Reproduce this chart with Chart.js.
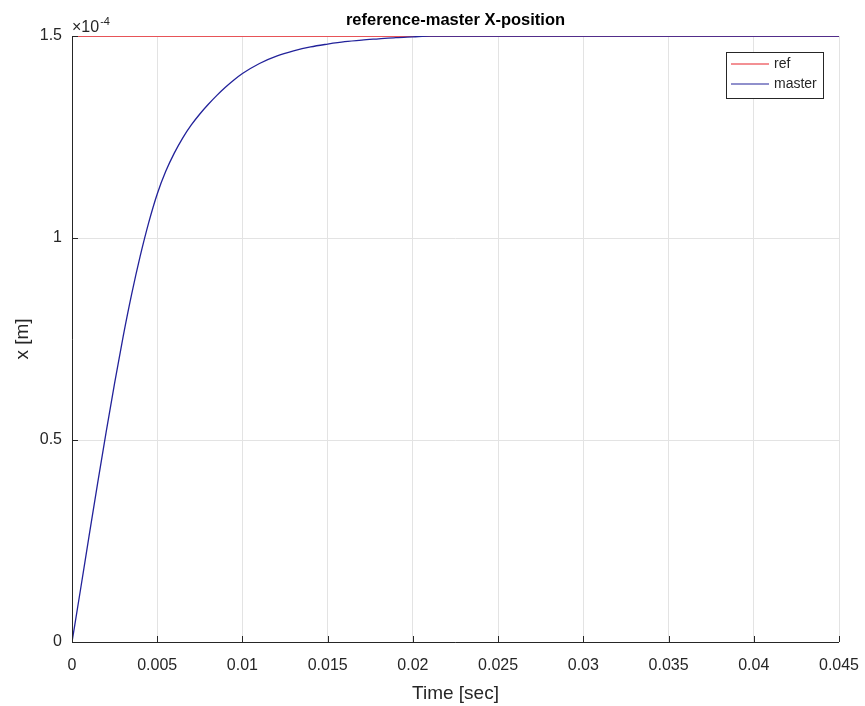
<!DOCTYPE html>
<html>
<head>
<meta charset="utf-8">
<script src="https://cdn.jsdelivr.net/npm/chart.js@4/dist/chart.umd.min.js"></script>
<style>
  html, body { margin: 0; padding: 0; background: #fff; }
  #wrap { width: 865px; height: 706px; position: relative; }
</style>
</head>
<body>
<div id="wrap"><canvas id="c" width="865" height="706"></canvas></div>
<script>
// values, x in seconds, y in units of 1e-4 m
const timeSec = [0, 0.0005, 0.001, 0.0015, 0.002, 0.0025, 0.003, 0.0035, 0.004, 0.0045,
  0.005, 0.0055, 0.006, 0.0065, 0.007, 0.0075, 0.008, 0.0085, 0.009, 0.0095, 0.010, 0.011,
  0.012, 0.013, 0.014, 0.015, 0.016, 0.017, 0.018, 0.019, 0.020, 0.021, 0.045];
const masterX = [0, 0.13, 0.262, 0.392, 0.519, 0.641, 0.756, 0.861, 0.955, 1.038,
  1.109, 1.165, 1.21, 1.248, 1.28, 1.307, 1.331, 1.353, 1.373, 1.391, 1.407, 1.432,
  1.45, 1.463, 1.473, 1.48, 1.486, 1.49, 1.493, 1.496, 1.498, 1.5, 1.5];
const refTime = [0, 0.045];
const refX = [1.5, 1.5];
const xTicks = [0, 0.005, 0.01, 0.015, 0.02, 0.025, 0.03, 0.035, 0.04, 0.045];
const yTicks = [0, 0.5, 1, 1.5];
const legendNames = ['ref', 'master'];

const RED = '#e8232a';
const BLUE = '#22229a';
const FONT = '"Liberation Sans", Arial, sans-serif';

const pts = (xs, ys) => xs.map((x, i) => ({x, y: ys[i]}));

// title, exponent, axis titles, inner ticks and legend box
const decor = {
  id: 'decor',
  afterDraw(chart) {
    const {ctx, chartArea: a, scales} = chart;
    const xs = scales.x, ys = scales.y;
    ctx.save();
    // inner ticks
    ctx.strokeStyle = '#262626';
    ctx.lineWidth = 1;
    ctx.beginPath();
    xTicks.forEach(v => {
      const px = Math.round(xs.getPixelForValue(v)) + 0.5;
      ctx.moveTo(px, a.bottom); ctx.lineTo(px, a.bottom - 6);
    });
    yTicks.forEach(v => {
      const py = Math.round(ys.getPixelForValue(v)) + 0.5;
      ctx.moveTo(a.left, py); ctx.lineTo(a.left + 6, py);
    });
    ctx.stroke();
    // axes lines (left, bottom)
    ctx.beginPath();
    ctx.moveTo(a.left + 0.5, a.top); ctx.lineTo(a.left + 0.5, a.bottom + 0.5);
    ctx.lineTo(a.right, a.bottom + 0.5);
    ctx.stroke();

    ctx.fillStyle = '#000';
    ctx.font = 'bold 16.5px ' + FONT;
    ctx.textAlign = 'center';
    ctx.textBaseline = 'alphabetic';
    ctx.fillText('reference-master X-position', (a.left + a.right) / 2, 25);

    // exponent
    ctx.fillStyle = '#262626';
    ctx.textAlign = 'left';
    ctx.font = '16px ' + FONT;
    ctx.fillText('\u00d710', a.left, 32);
    const w = ctx.measureText('\u00d710').width;
    ctx.font = '11px ' + FONT;
    ctx.fillText('-4', a.left + w + 1, 25);

    // axis titles
    ctx.font = '19px ' + FONT;
    ctx.textAlign = 'center';
    ctx.fillText('Time [sec]', (a.left + a.right) / 2, 699);
    ctx.save();
    ctx.translate(23, (a.top + a.bottom) / 2);
    ctx.rotate(-Math.PI / 2);
    ctx.textBaseline = 'middle';
    ctx.fillText('x [m]', 0, 0);
    ctx.restore();

    // legend
    const bx = 726, by = 52, bw = 97, bh = 46;
    ctx.fillStyle = '#fff';
    ctx.fillRect(bx, by, bw, bh);
    ctx.strokeStyle = '#262626';
    ctx.strokeRect(bx + 0.5, by + 0.5, bw, bh);
    const cols = [RED, BLUE];
    ctx.font = '14px ' + FONT;
    ctx.textAlign = 'left';
    ctx.textBaseline = 'middle';
    legendNames.forEach((n, i) => {
      const y = by + 12 + i * 20;
      ctx.strokeStyle = cols[i];
      ctx.lineWidth = 1.2;
      ctx.beginPath();
      ctx.moveTo(bx + 5, y); ctx.lineTo(bx + 43, y);
      ctx.stroke();
      ctx.fillStyle = '#262626';
      ctx.fillText(n, bx + 48, y);
    });
    ctx.restore();
  }
};

new Chart(document.getElementById('c'), {
  type: 'line',
  data: {
    datasets: [
      { label: legendNames[0], data: pts(refTime, refX), borderColor: RED, borderWidth: 1.3,
        pointRadius: 0, order: 1 },
      { label: legendNames[1], data: pts(timeSec, masterX), borderColor: BLUE, borderWidth: 1.3,
        pointRadius: 0, cubicInterpolationMode: 'monotone', order: 0 }
    ]
  },
  options: {
    responsive: false,
    animation: false,
    layout: { padding: { left: 0, top: 36, right: 26, bottom: 0 } },
    plugins: { legend: { display: false }, title: { display: false }, tooltip: { enabled: false } },
    scales: {
      x: {
        type: 'linear', min: 0, max: 0.045,
        afterBuildTicks: s => { s.ticks = xTicks.map(v => ({value: v})); },
        afterFit: s => { s.height = 64; s.paddingLeft = 0; s.paddingRight = 0; },
        grid: { color: '#e3e3e3', drawTicks: false, lineWidth: 1 },
        border: { display: false },
        ticks: {
          padding: 14, color: '#262626', maxRotation: 0, autoSkip: false,
          font: { family: FONT, size: 16 },
          callback: v => String(Number(v.toFixed(3)))
        }
      },
      y: {
        type: 'linear', min: 0, max: 1.5,
        afterBuildTicks: s => { s.ticks = yTicks.map(v => ({value: v})); },
        afterFit: s => { s.width = 72; s.paddingTop = 0; s.paddingBottom = 0; },
        grid: { color: '#e3e3e3', drawTicks: false, lineWidth: 1 },
        border: { display: false },
        ticks: {
          padding: 10, color: '#262626',
          font: { family: FONT, size: 16 },
          callback: v => String(v)
        }
      }
    }
  },
  plugins: [decor]
});
</script>
</body>
</html>
